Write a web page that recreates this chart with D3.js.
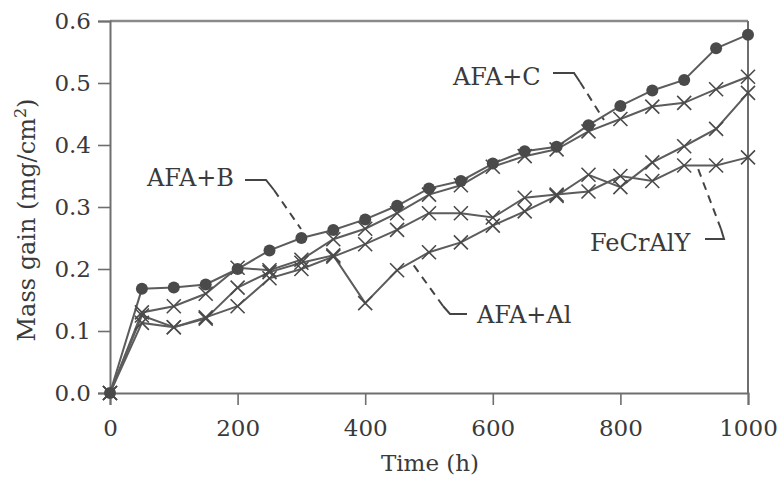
<!DOCTYPE html>
<html><head><meta charset="utf-8">
<script src="https://cdn.jsdelivr.net/npm/d3@7"></script>
<style>
html,body{margin:0;padding:0;background:#fff;}
svg{display:block;}
text{font-family:"DejaVu Serif",serif;fill:#3a3a3a;}
</style></head>
<body>
<svg id="chart" width="779" height="479"></svg>
<script>
const times = [0,50,100,150,200,250,300,350,400,450,500,550,600,650,700,750,800,850,900,950,1000];
const afaB = [0,0.168,0.17,0.175,0.2,0.23,0.25,0.263,0.28,0.302,0.33,0.342,0.37,0.39,0.397,0.432,0.463,0.488,0.505,0.556,0.578];
const afaC = [0,0.13,0.14,0.16,0.202,0.198,0.215,0.248,0.265,0.29,0.32,0.335,0.365,0.382,0.393,0.422,0.442,0.462,0.468,0.49,0.51];
const afaAl = [0,0.125,0.106,0.12,0.17,0.195,0.21,0.222,0.145,0.198,0.227,0.243,0.27,0.293,0.318,0.352,0.332,0.372,0.398,0.426,0.484];
const fecraly = [0,0.113,0.106,0.122,0.14,0.185,0.2,0.22,0.24,0.263,0.29,0.29,0.283,0.315,0.32,0.325,0.35,0.342,0.367,0.367,0.38];
const xTicks = [0,200,400,600,800,1000];
const yTicks = [0,0.1,0.2,0.3,0.4,0.5,0.6];
const seriesNames = ["AFA+B","AFA+C","AFA+Al","FeCrAlY"];
const seriesMarkers = ["circle","cross","cross","cross"];

const svg = d3.select("#chart");
const x = d3.scaleLinear().domain([0,1000]).range([110,748]);
const y = d3.scaleLinear().domain([0,0.6]).range([393,21]);
const axisColor = "#6e6e6e";

// frame
svg.append("line").attr("x1",x(0)).attr("x2",x(1000)).attr("y1",y(0.6)).attr("y2",y(0.6))
  .attr("stroke","#8a8a8a").attr("stroke-width",2.5);
svg.append("line").attr("x1",x(1000)).attr("x2",x(1000)).attr("y1",y(0.6)).attr("y2",y(0))
  .attr("stroke",axisColor).attr("stroke-width",2);

const gx = svg.append("g").attr("transform",`translate(0,${y(0)})`)
  .call(d3.axisBottom(x).tickValues(xTicks).tickSize(12).tickPadding(15).tickFormat(d3.format("d")));
const gy = svg.append("g").attr("transform",`translate(${x(0)},0)`)
  .call(d3.axisLeft(y).tickValues(yTicks).tickSize(12).tickPadding(7).tickFormat(d3.format(".1f")));
[gx,gy].forEach(g=>{
  g.select(".domain").attr("stroke",axisColor).attr("stroke-width",2);
  g.selectAll(".tick line").attr("stroke",axisColor).attr("stroke-width",1.6);
  g.selectAll(".tick text").attr("font-size",23).attr("font-family","DejaVu Serif, serif").attr("fill","#3d3d3d");
});

// axis titles
svg.append("text").attr("x",430).attr("y",471).attr("text-anchor","middle").attr("font-size",23).text("Time (h)");
const yt = svg.append("text").attr("transform","translate(35,220) rotate(-90)").attr("text-anchor","middle").attr("font-size",24);
yt.append("tspan").text("Mass gain (mg/cm");
yt.append("tspan").attr("dy",-9).attr("font-size",16).text("2");
yt.append("tspan").attr("dy",9).text(")");

// series
const seriesData = [afaB, afaC, afaAl, fecraly];
const line = d3.line().x(d=>x(d[0])).y(d=>y(d[1]));
const lineColor = "#5c5c5c", markColor = "#4a4a4a";
seriesData.forEach((vals,i)=>{
  const pts = times.map((t,j)=>[t,vals[j]]);
  svg.append("path").datum(pts).attr("d",line).attr("fill","none").attr("stroke",lineColor).attr("stroke-width",2);
});
seriesData.forEach((vals,i)=>{
  const pts = times.map((t,j)=>[t,vals[j]]);
  const g = svg.append("g");
  if (seriesMarkers[i]==="circle") {
    g.selectAll("circle").data(pts).join("circle").attr("cx",d=>x(d[0])).attr("cy",d=>y(d[1])).attr("r",6).attr("fill",markColor);
  } else {
    const s = 7;
    g.selectAll("path").data(pts).join("path")
      .attr("d",d=>{const cx=x(d[0]),cy=y(d[1]);return `M${cx-s},${cy-s}L${cx+s},${cy+s}M${cx-s},${cy+s}L${cx+s},${cy-s}`;})
      .attr("stroke",markColor).attr("stroke-width",1.6).attr("fill","none");
  }
});

// labels with leaders
function label(txt,tx,ty,anchor,solid,dashed){
  svg.append("text").attr("x",tx).attr("y",ty).attr("text-anchor",anchor).attr("font-size",24).attr("fill","#333").text(txt);
  svg.append("path").attr("d",d3.line()(solid)).attr("fill","none").attr("stroke","#444").attr("stroke-width",2);
  svg.append("path").attr("d",d3.line()(dashed)).attr("fill","none").attr("stroke","#444").attr("stroke-width",2).attr("stroke-dasharray","8,6");
}
label("AFA+B",147,186,"start",[[245,180],[266,180],[274,190]],[[274,190],[301,229]]);
label("AFA+C",453,85,"start",[[553,73],[574,73],[580,82]],[[580,82],[604,120]]);
label("AFA+Al",477,323,"start",[[467,314],[450,314],[443,306]],[[443,306],[412,263]]);
label("FeCrAlY",590,251,"start",[[705,239],[724,239],[721,229]],[[721,229],[697,166]]);
</script>
</body></html>
